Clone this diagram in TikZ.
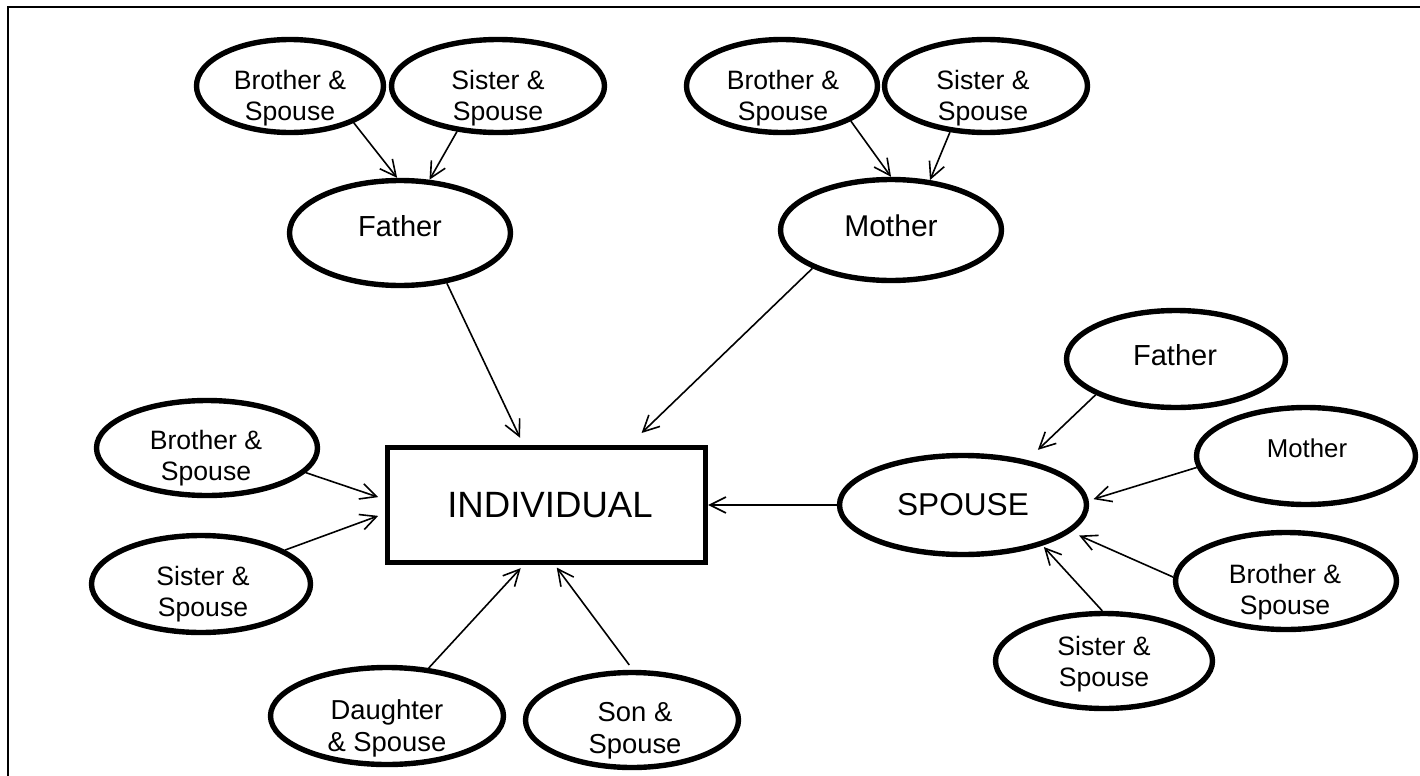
\documentclass[tikz,border=0pt]{standalone}
\usepackage{fontspec}
\setmainfont{Liberation Sans}
\usetikzlibrary{arrows.meta,shapes.geometric}
\begin{document}
\begin{tikzpicture}[x=0.5pt,y=-0.5pt,
  ell/.style 2 args={ellipse,draw,line width=2.7pt,inner sep=0pt,minimum width=#1pt,minimum height=#2pt},
  lbl/.style={align=center,inner sep=0pt,font=\fontsize{13.3}{15.5}\selectfont},
  big/.style={align=center,inner sep=0pt,font=\fontsize{14.5}{16}\selectfont},
  arr/.style={-{Straight Barb[length=8pt,width=8pt]},line width=0.8pt},
  frame/.style={line width=1pt}]
\useasboundingbox (0,0) rectangle (1420,776);
\draw[frame] (8,776) -- (8,7) -- (1420,7);

% ellipses
\node[ell={93.5}{46.5}] (tlb) at (290,86) {};
\node[ell={106.5}{46.5}] (tls) at (498,86) {};
\node[ell={110.5}{52.5}] (fa) at (400,233) {};
\node[ell={95.5}{46.5}] (trb) at (782,86) {};
\node[ell={101.5}{46.5}] (trs) at (986,86) {};
\node[ell={110.5}{50.5}] (mo) at (891,230) {};
\node[ell={110.5}{47.5}] (lb) at (207,448) {};
\node[ell={109.5}{48.5}] (ls) at (201,584) {};
\node[ell={116.5}{48.5}] (da) at (387,716) {};
\node[ell={106.5}{47.5}] (so) at (632,720) {};
\node[ell={123.5}{49.5}] (sp) at (963,505) {};
\node[ell={109.5}{48.5}] (rf) at (1176,359) {};
\node[ell={109.5}{48.5}] (rm) at (1306,456) {};
\node[ell={110.5}{48.5}] (rb) at (1286,581) {};
\node[ell={108.5}{47.5}] (rs) at (1104,661) {};
% central box
\node[draw,line width=2.7pt,inner sep=0pt,minimum width=159pt,minimum height=57.5pt] (ind) at (546.5,505) {};

% labels
\node[lbl] (tlbt) at (290,98) {Brother \&\\Spouse};
\node[lbl] (tlst) at (498,98) {Sister \&\\Spouse};
\node[big] (fat) at (400,226) {Father};
\node[lbl] (trbt) at (783,98) {Brother \&\\Spouse};
\node[lbl] (trst) at (983,98) {Sister \&\\Spouse};
\node[big,font=\fontsize{15}{16}\selectfont] (mot) at (891,226) {Mother};
\node[lbl] (lbt) at (206,458) {Brother \&\\Spouse};
\node[lbl] (lst) at (203,594) {Sister \&\\Spouse};
\node[lbl,font=\fontsize{13.7}{16}\selectfont] (dat) at (387,728) {Daughter\\\& Spouse};
\node[lbl,font=\fontsize{13.7}{16}\selectfont] (sot) at (635,731) {Son \&\\Spouse};
\node[inner sep=0pt,font=\fontsize{15.8}{17}\selectfont] (spt) at (963,505) {SPOUSE};
\node[big] (rft) at (1175,355) {Father};
\node[inner sep=0pt,font=\fontsize{12.9}{15}\selectfont] (rmt) at (1307,448) {Mother};
\node[lbl] (rbt) at (1285,592) {Brother \&\\Spouse};
\node[lbl] (rst) at (1104,664) {Sister \&\\Spouse};
\node[inner sep=0pt,font=\fontsize{18.3}{20}\selectfont] (indt) at (550,505) {INDIVIDUAL};

% connectors
\draw[arr] (tlb.-30) -- (fa.93);
\draw[arr] (tls.-132) -- (fa.61);
\draw[arr] (trb.-27) -- (mo.90);
\draw[arr] (trs.-128) -- (mo.52);
\draw[arr,shorten >=3.9pt] (fa.-47) -- (ind.111);
\draw[arr,shorten >=8.5pt] (mo.-154) -- (ind.36);
\draw[arr,shorten >=3.5pt] (lb.-14) -- (ind.178);
\draw[arr,shorten >=3.5pt] (ls.22) -- (ind.-177);
\draw[arr,shorten >=2pt] (da.49) -- (ind.-111);
\draw[arr,shorten >=1.5pt,shorten <=3pt] (so.89) -- (ind.-82);
\draw[arr] (sp.west) -- (ind.east);
\draw[arr,shorten >=7.4pt] (rf.-156) -- (sp.35);
\draw[arr,shorten >=2.5pt] (rm.-174) -- (sp.2);
\draw[arr,shorten >=4.4pt] (rb.178) -- (sp.-14);
\draw[arr,shorten >=1pt] (rs.92) -- (sp.-27);
\end{tikzpicture}
\end{document}
